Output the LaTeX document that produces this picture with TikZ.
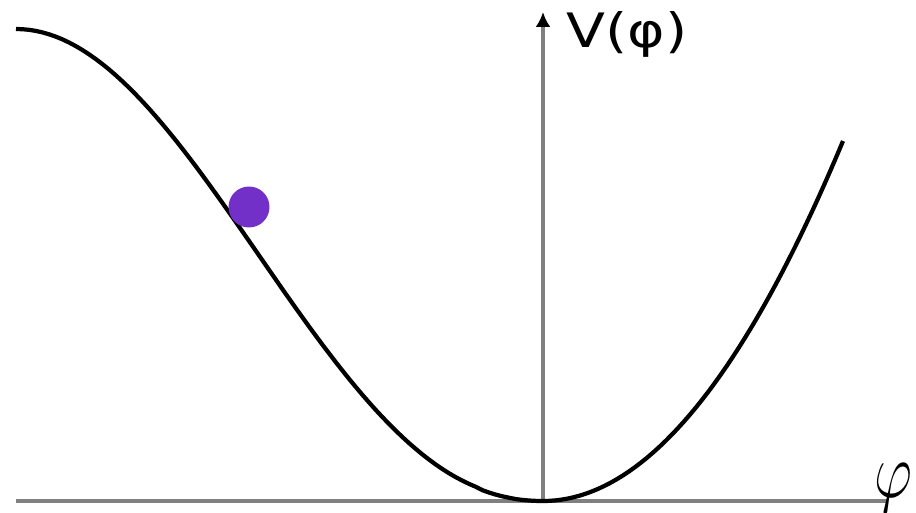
\documentclass[tikz,border=0pt]{standalone}
\usepackage{fontspec}
\usepackage{graphicx}
\usepackage{xcolor}
\usepackage{tikz}
\usetikzlibrary{positioning, arrows.meta}
\newfontfamily\labelfont[FakeStretch=1.2]{DejaVu Sans}
\definecolor{ballpurple}{RGB}{114,48,200}
\definecolor{axisgray}{RGB}{128,128,128}

\begin{document}
\begin{tikzpicture}[
    x=0.02cm, y=-0.02cm,
    axis/.style={draw=axisgray, line width=2.5pt},
    potential/.style={draw=black, line width=2.4pt},
    ballnode/.style={circle, fill=ballpurple, minimum size=0.82cm, inner sep=0pt},
    labelnode/.style={inner sep=0pt, font=\labelfont\fontsize{27}{30}\selectfont}
]
\useasboundingbox (0,0) rectangle (916,513);
% axes
\coordinate (origin) at (543,501);
\coordinate (x_end) at (888,501);
\coordinate (x_start) at (16,501);
\coordinate (y_end) at (543,12);
\draw[axis] (x_start) -- (x_end);
\draw[axis, -{Latex[black, length=0.3cm, width=0.3cm]}] (origin) -- (y_end);
\node[labelnode, anchor=north west] (v_label) at (566,11) {V(φ)};
\node[inner sep=0pt, font=\fontsize{24.88}{25}\selectfont, anchor=base west] (phi_label) at (874,497) {\scalebox{1.35}[1.8]{$\varphi$}};
% potential curve: left slope and right well
\draw[potential] plot[domain=16:542.5, samples=80] (\x, {501 - 236*(1 - cos(180*((543-\x)/527)^1.08))}) -- (origin);
\draw[potential] plot[domain=543:843, samples=50] (\x, {501 - 360*((\x-543)/300)^2});
% the ball
\node[ballnode] (ball) at (249,207) {};
\end{tikzpicture}
\end{document}
